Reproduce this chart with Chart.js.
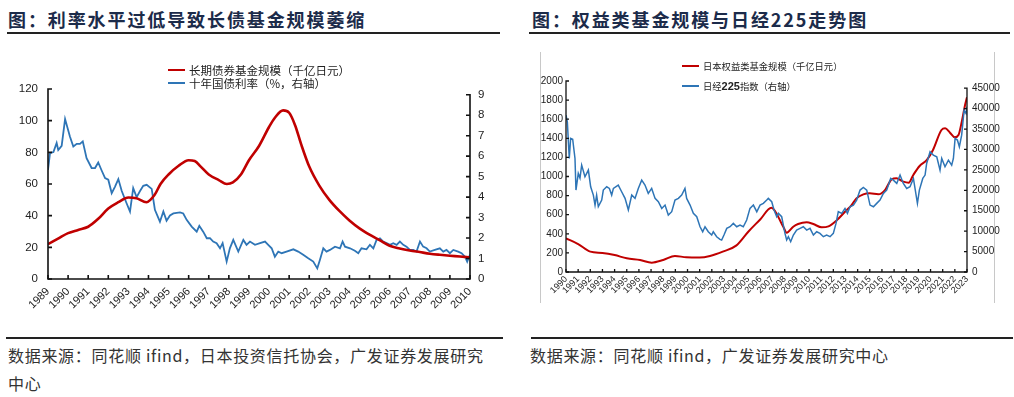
<!DOCTYPE html>
<html><head><meta charset="utf-8">
<script src="https://cdn.jsdelivr.net/npm/chart.js@4.4.1/dist/chart.umd.min.js"></script>
<style>
body{margin:0;width:1014px;height:397px;background:#fff;position:relative;overflow:hidden;font-family:"Noto Sans CJK SC",sans-serif;}
.abs{position:absolute;}
.title{font-size:18px;font-weight:700;color:#1c2b4a;letter-spacing:1.9px;line-height:24px;white-space:nowrap;}
.rule{background:#222;height:1.5px;}
.leg{color:#222;white-space:nowrap;}
.src{font-size:16px;color:#333;line-height:28px;letter-spacing:0.7px;white-space:nowrap;}
.frame{background:#c8c8c8;width:1px;}
canvas{position:absolute;}
</style></head>
<body>
<div class="abs title" style="left:8px;top:7px;">图：利率水平过低导致长债基金规模萎缩</div>
<div class="abs rule" style="left:7px;top:32px;width:493px;"></div>
<div class="abs title" style="left:532px;top:7px;">图：权益类基金规模与日经225走势图</div>
<div class="abs rule" style="left:529px;top:32px;width:481px;"></div>

<div class="abs frame" style="left:540px;top:52px;height:251px;"></div>
<div class="abs frame" style="left:994px;top:52px;height:251px;"></div>

<canvas id="cL" width="500" height="290" style="left:0;top:40px;"></canvas>
<canvas id="cR" width="480" height="290" style="left:530px;top:40px;"></canvas>

<div class="abs" style="left:168px;top:68.5px;width:17px;height:2.5px;background:#c00000;"></div>
<div class="abs leg" style="left:189px;top:61px;font-size:11.5px;line-height:18px;">长期债券基金规模（千亿日元）</div>
<div class="abs" style="left:168px;top:82px;width:17px;height:2px;background:#2e75b6;"></div>
<div class="abs leg" style="left:189px;top:74px;font-size:11.5px;line-height:18px;">十年国债利率（%，右轴）</div>

<div class="abs" style="left:682px;top:65px;width:17px;height:2px;background:#c00000;"></div>
<div class="abs leg" style="left:703px;top:59px;font-size:9.3px;line-height:14px;">日本权益类基金规模（千亿日元）</div>
<div class="abs" style="left:682px;top:85px;width:17px;height:2px;background:#2e75b6;"></div>
<div class="abs leg" style="left:703px;top:79px;font-size:9.3px;line-height:14px;">日经<b style="font-family:'Liberation Sans',Arial,sans-serif;font-size:11px;">225</b>指数（右轴）</div>

<div class="abs rule" style="left:6px;top:337px;width:497px;"></div>
<div class="abs rule" style="left:531px;top:337px;width:482px;"></div>
<div class="abs src" style="left:8px;top:341px;">数据来源：同花顺 ifind，日本投资信托协会，广发证券发展研究<br>中心</div>
<div class="abs src" style="left:530px;top:341px;">数据来源：同花顺 ifind，广发证券发展研究中心</div>

<script>
// ---------- Left chart data ----------
const leftYearTicks = [1989,1990,1991,1992,1993,1994,1995,1996,1997,1998,1999,2000,2001,2002,2003,2004,2005,2006,2007,2008,2009,2010];
const leftTicks = [0,20,40,60,80,100,120];
const rateTicks = [0,1,2,3,4,5,6,7,8,9];

const bondYears = [1989.0,1989.5,1990.0,1990.5,1991.0,1991.5,1992.0,1992.5,1993.0,1993.4,1993.9,1994.3,1994.6,1995.0,1995.5,1996.0,1996.3,1996.6,1997.0,1997.5,1997.9,1998.2,1998.6,1999.0,1999.5,2000.0,2000.3,2000.7,2001.0,2001.3,2001.6,2002.0,2002.5,2003.0,2003.5,2004.0,2004.5,2005.0,2005.5,2006.0,2006.5,2007.0,2007.5,2008.0,2008.5,2009.0,2009.5,2010.0];
const bondFund  = [22,25.5,29,31,33,38,44.5,48.5,51.5,51,48.5,53,60,66,71.5,75,74.5,71,66,62.5,60,61,66,75,84,96,102,106.5,105,97,85,71,59,50,43,37,32,28,24.5,21,19.3,18,17,16,15.3,14.7,14.2,13.6];

const rateYears = [1989.00,1989.10,1989.27,1989.43,1989.51,1989.68,1989.85,1990.09,1990.26,1990.43,1990.59,1990.73,1990.92,1991.17,1991.34,1991.50,1991.67,1991.84,1992.00,1992.17,1992.33,1992.50,1992.67,1992.91,1993.08,1993.24,1993.41,1993.58,1993.74,1993.91,1994.16,1994.32,1994.57,1994.74,1994.90,1995.07,1995.24,1995.57,1995.73,1995.90,1996.15,1996.40,1996.53,1996.73,1996.90,1997.06,1997.22,1997.39,1997.56,1997.69,1997.89,1998.05,1998.22,1998.47,1998.72,1998.88,1999.05,1999.30,1999.55,1999.80,1999.96,2000.13,2000.29,2000.46,2000.63,2000.87,2001.21,2001.45,2001.70,2001.95,2002.20,2002.40,2002.53,2002.70,2002.86,2003.03,2003.28,2003.53,2003.66,2003.78,2004.03,2004.27,2004.44,2004.60,2004.85,2005.02,2005.19,2005.35,2005.52,2005.68,2005.85,2006.02,2006.18,2006.35,2006.51,2006.68,2006.84,2007.01,2007.18,2007.34,2007.51,2007.67,2007.84,2008.00,2008.25,2008.50,2008.67,2008.83,2009.00,2009.17,2009.41,2009.58,2009.75,2009.86,2009.96,2010.00];
const rateVals  = [5.33,6.15,6.2,6.64,6.3,6.5,7.81,6.96,6.47,6.6,6.6,6.72,5.9,5.42,5.42,5.69,5.3,4.93,4.85,4.19,4.5,4.88,4.3,3.7,3.29,4.44,4.0,4.3,4.55,4.6,4.4,3.38,2.8,3.3,2.85,3.1,3.2,3.25,3.2,2.89,2.56,2.31,2.6,2.3,1.99,2.0,1.83,1.75,1.5,1.75,0.85,1.5,1.91,1.34,1.91,1.67,1.83,1.67,1.75,1.83,1.67,1.5,1.09,1.34,1.26,1.34,1.45,1.34,1.18,1.01,0.85,0.52,0.93,1.5,1.34,1.42,1.58,1.5,1.83,1.58,1.5,1.38,1.26,1.5,1.45,1.67,1.5,1.91,1.99,1.83,1.75,1.67,1.75,1.67,1.83,1.67,1.58,1.42,1.42,1.34,1.83,1.58,1.5,1.34,1.42,1.5,1.34,1.42,1.26,1.42,1.34,1.26,1.09,0.85,1.09,1.2];

// ---------- Right chart data ----------
const rightYearTicks = [1990,1991,1992,1993,1994,1995,1996,1997,1998,1999,2000,2001,2002,2003,2004,2005,2006,2007,2008,2009,2010,2011,2012,2013,2014,2015,2016,2017,2018,2019,2020,2021,2022,2023];
const fundTicks = [0,200,400,600,800,1000,1200,1400,1600,1800,2000];
const nikkeiTicks = [0,5000,10000,15000,20000,25000,30000,35000,40000,45000];

const equityYears = [1990.0,1991.0,1992.0,1993.0,1994.0,1995.0,1996.1,1997.05,1998.0,1998.97,1999.9,2001.0,2001.85,2002.9,2004.0,2005.0,2006.0,2006.9,2007.88,2008.16,2008.7,2009.1,2009.8,2010.35,2011.04,2011.6,2012.3,2012.96,2013.5,2013.9,2014.47,2015.0,2015.7,2016.25,2016.8,2017.2,2017.76,2018.2,2018.58,2019.1,2019.7,2020.2,2020.9,2021.2,2021.6,2022.0,2022.3,2022.57,2022.84,2023.0];
const equityFund  = [353,293,213,200,178,143,126,98,126,168,154,152,168,213,276,422,553,673,474,411,474,502,520,502,468,478,544,631,701,771,813,824,814,858,970,981,946,935,1016,1110,1173,1277,1487,1504,1459,1410,1434,1574,1748,1830];

const nikkeiYears = [1990.00,1990.11,1990.27,1990.38,1990.55,1990.74,1990.82,1991.01,1991.15,1991.29,1991.56,1991.84,1992.03,1992.25,1992.39,1992.52,1992.66,1992.94,1993.07,1993.35,1993.57,1993.76,1993.90,1994.30,1994.58,1994.86,1995.13,1995.41,1995.68,1995.95,1996.23,1996.50,1996.77,1997.05,1997.33,1997.60,1997.88,1998.15,1998.42,1998.70,1998.97,1999.25,1999.52,1999.79,1999.93,2000.21,2000.48,2000.76,2001.03,2001.25,2001.44,2001.71,2001.99,2002.12,2002.40,2002.67,2002.81,2003.00,2003.23,2003.50,2003.77,2004.05,2004.32,2004.59,2004.87,2005.14,2005.42,2005.70,2005.97,2006.24,2006.52,2006.65,2006.93,2007.12,2007.34,2007.48,2007.75,2008.02,2008.16,2008.30,2008.49,2008.71,2008.98,2009.26,2009.53,2009.81,2010.08,2010.36,2010.63,2010.90,2011.18,2011.45,2011.73,2012.00,2012.22,2012.41,2012.69,2012.96,2013.16,2013.37,2013.65,2013.92,2014.20,2014.47,2014.75,2015.02,2015.30,2015.57,2015.84,2016.12,2016.39,2016.72,2016.94,2017.22,2017.49,2017.76,2018.04,2018.31,2018.59,2018.92,2019.08,2019.36,2019.55,2019.68,2019.96,2020.23,2020.51,2020.78,2020.92,2021.19,2021.47,2021.74,2021.88,2022.02,2022.21,2022.37,2022.56,2022.76,2022.92,2023.00];
const nikkeiVals  = [38400,36760,27800,32700,32500,27800,20060,24140,23000,26170,23310,24950,20870,18830,16390,18830,16000,17610,20060,20870,20460,18830,20460,21280,19650,18020,15170,18830,18020,20460,22500,21280,19250,20460,18020,17200,15570,16390,13940,14760,17610,18020,18830,20460,18020,16390,14350,13530,11080,9860,11080,9860,9050,9860,8640,7990,7830,9050,10690,11080,11900,11080,11490,11080,12720,15570,16390,14760,16390,16800,17610,18020,17200,15170,13530,14350,13530,9460,7830,8640,7420,9050,10270,10690,11080,10270,10690,9050,9860,9460,8640,9050,8640,9460,11900,14760,14350,15570,14350,15970,16390,17610,20060,20700,20060,16390,15970,16800,17610,19250,20060,22910,22500,21690,23730,21690,20460,20870,22910,16800,20060,22910,23730,26580,29430,28610,28200,24950,27800,25770,27380,26170,27800,32700,32300,30650,33500,39630,38800,40430];

// ---------- helpers ----------
const pts = (xs, ys) => xs.map((x, i) => ({x, y: ys[i]}));
const setTicks = arr => s => { s.ticks = arr.map(v => ({value: v})); };

const axisPlugin = {
  id: 'axisLines',
  afterDatasetsDraw(chart) {
    const o = chart.options.plugins.axisLines;
    const ctx = chart.ctx, ca = chart.chartArea;
    ctx.save();
    ctx.strokeStyle = o.color; ctx.lineWidth = o.width;
    Object.values(chart.scales).forEach(s => {
      ctx.beginPath();
      if (s.isHorizontal()) {
        const y = ca.bottom;
        ctx.moveTo(ca.left - o.width/2, y); ctx.lineTo(ca.right + o.width/2, y);
        s.ticks.forEach(t => { const x = s.getPixelForValue(t.value); ctx.moveTo(x, y); ctx.lineTo(x, y - o.tick); });
      } else {
        const left = s.position === 'left';
        const x = left ? ca.left : ca.right;
        const top = s.getPixelForValue(s.ticks[s.ticks.length - 1].value);
        ctx.moveTo(x, ca.bottom); ctx.lineTo(x, top - o.width/2);
        s.ticks.forEach(t => { const y = s.getPixelForValue(t.value); ctx.moveTo(x, y); ctx.lineTo(left ? x + o.tick : x - o.tick, y); });
      }
      ctx.stroke();
    });
    ctx.restore();
  }
};

const tickFont = size => ({family: "'Liberation Sans', Arial, sans-serif", size});

function yAxis(pos, min, max, ticks, width, pad, fs) {
  return {
    type: 'linear', position: pos, min, max,
    afterBuildTicks: setTicks(ticks),
    afterFit: s => { s.width = width; },
    grid: {display: false, drawTicks: false},
    border: {display: false},
    ticks: {padding: pad, color: '#222', font: tickFont(fs), callback: v => String(v)}
  };
}
function xAxis(min, max, ticks, height, pad, fs) {
  return {
    type: 'linear', min, max,
    afterBuildTicks: setTicks(ticks),
    afterFit: s => { s.height = height; },
    grid: {display: false, drawTicks: false},
    border: {display: false},
    ticks: {autoSkip: false, minRotation: 45, maxRotation: 45, padding: pad, color: '#222', font: tickFont(fs), callback: v => String(v)}
  };
}

new Chart(document.getElementById('cL'), {
  type: 'line',
  data: {datasets: [
    {label: '长期债券基金规模（千亿日元）', data: pts(bondYears, bondFund), borderColor: '#c00000', borderWidth: 2.6, pointRadius: 0, cubicInterpolationMode: 'monotone', yAxisID: 'y', order: 0},
    {label: '十年国债利率（%，右轴）', data: pts(rateYears, rateVals), borderColor: '#2e75b6', borderWidth: 1.8, pointRadius: 0, tension: 0, yAxisID: 'y2', order: 1}
  ]},
  options: {
    responsive: false, animation: false, devicePixelRatio: 1,
    layout: {padding: {top: 49, left: 0, right: 0, bottom: 0}},
    plugins: {legend: {display: false}, tooltip: {enabled: false}, axisLines: {color: '#111', width: 1.6, tick: 4}},
    scales: {
      x: xAxis(1989, 2010, leftYearTicks, 51, 6, 11),
      y: yAxis('left', 0, 120, leftTicks, 48, 10, 11.5),
      y2: yAxis('right', 0, 9.28, rateTicks, 30, 8, 11.5)
    }
  },
  plugins: [axisPlugin]
});

new Chart(document.getElementById('cR'), {
  type: 'line',
  data: {datasets: [
    {label: '日本权益类基金规模（千亿日元）', data: pts(equityYears, equityFund), borderColor: '#c00000', borderWidth: 2, pointRadius: 0, cubicInterpolationMode: 'monotone', yAxisID: 'y', order: 1},
    {label: '日经225指数（右轴）', data: pts(nikkeiYears, nikkeiVals), borderColor: '#2e75b6', borderWidth: 1.5, pointRadius: 0, tension: 0, yAxisID: 'y2', order: 0}
  ]},
  options: {
    responsive: false, animation: false, devicePixelRatio: 1,
    layout: {padding: {top: 41, left: 0, right: 0, bottom: 0}},
    plugins: {legend: {display: false}, tooltip: {enabled: false}, axisLines: {color: '#111', width: 1.3, tick: 3}},
    scales: {
      x: xAxis(1990, 2023, rightYearTicks, 58, 2, 9),
      y: yAxis('left', 0, 2000, fundTicks, 36, 3, 10),
      y2: yAxis('right', 0, 46763, nikkeiTicks, 43, 5, 10)
    }
  },
  plugins: [axisPlugin]
});
</script>
</body></html>
